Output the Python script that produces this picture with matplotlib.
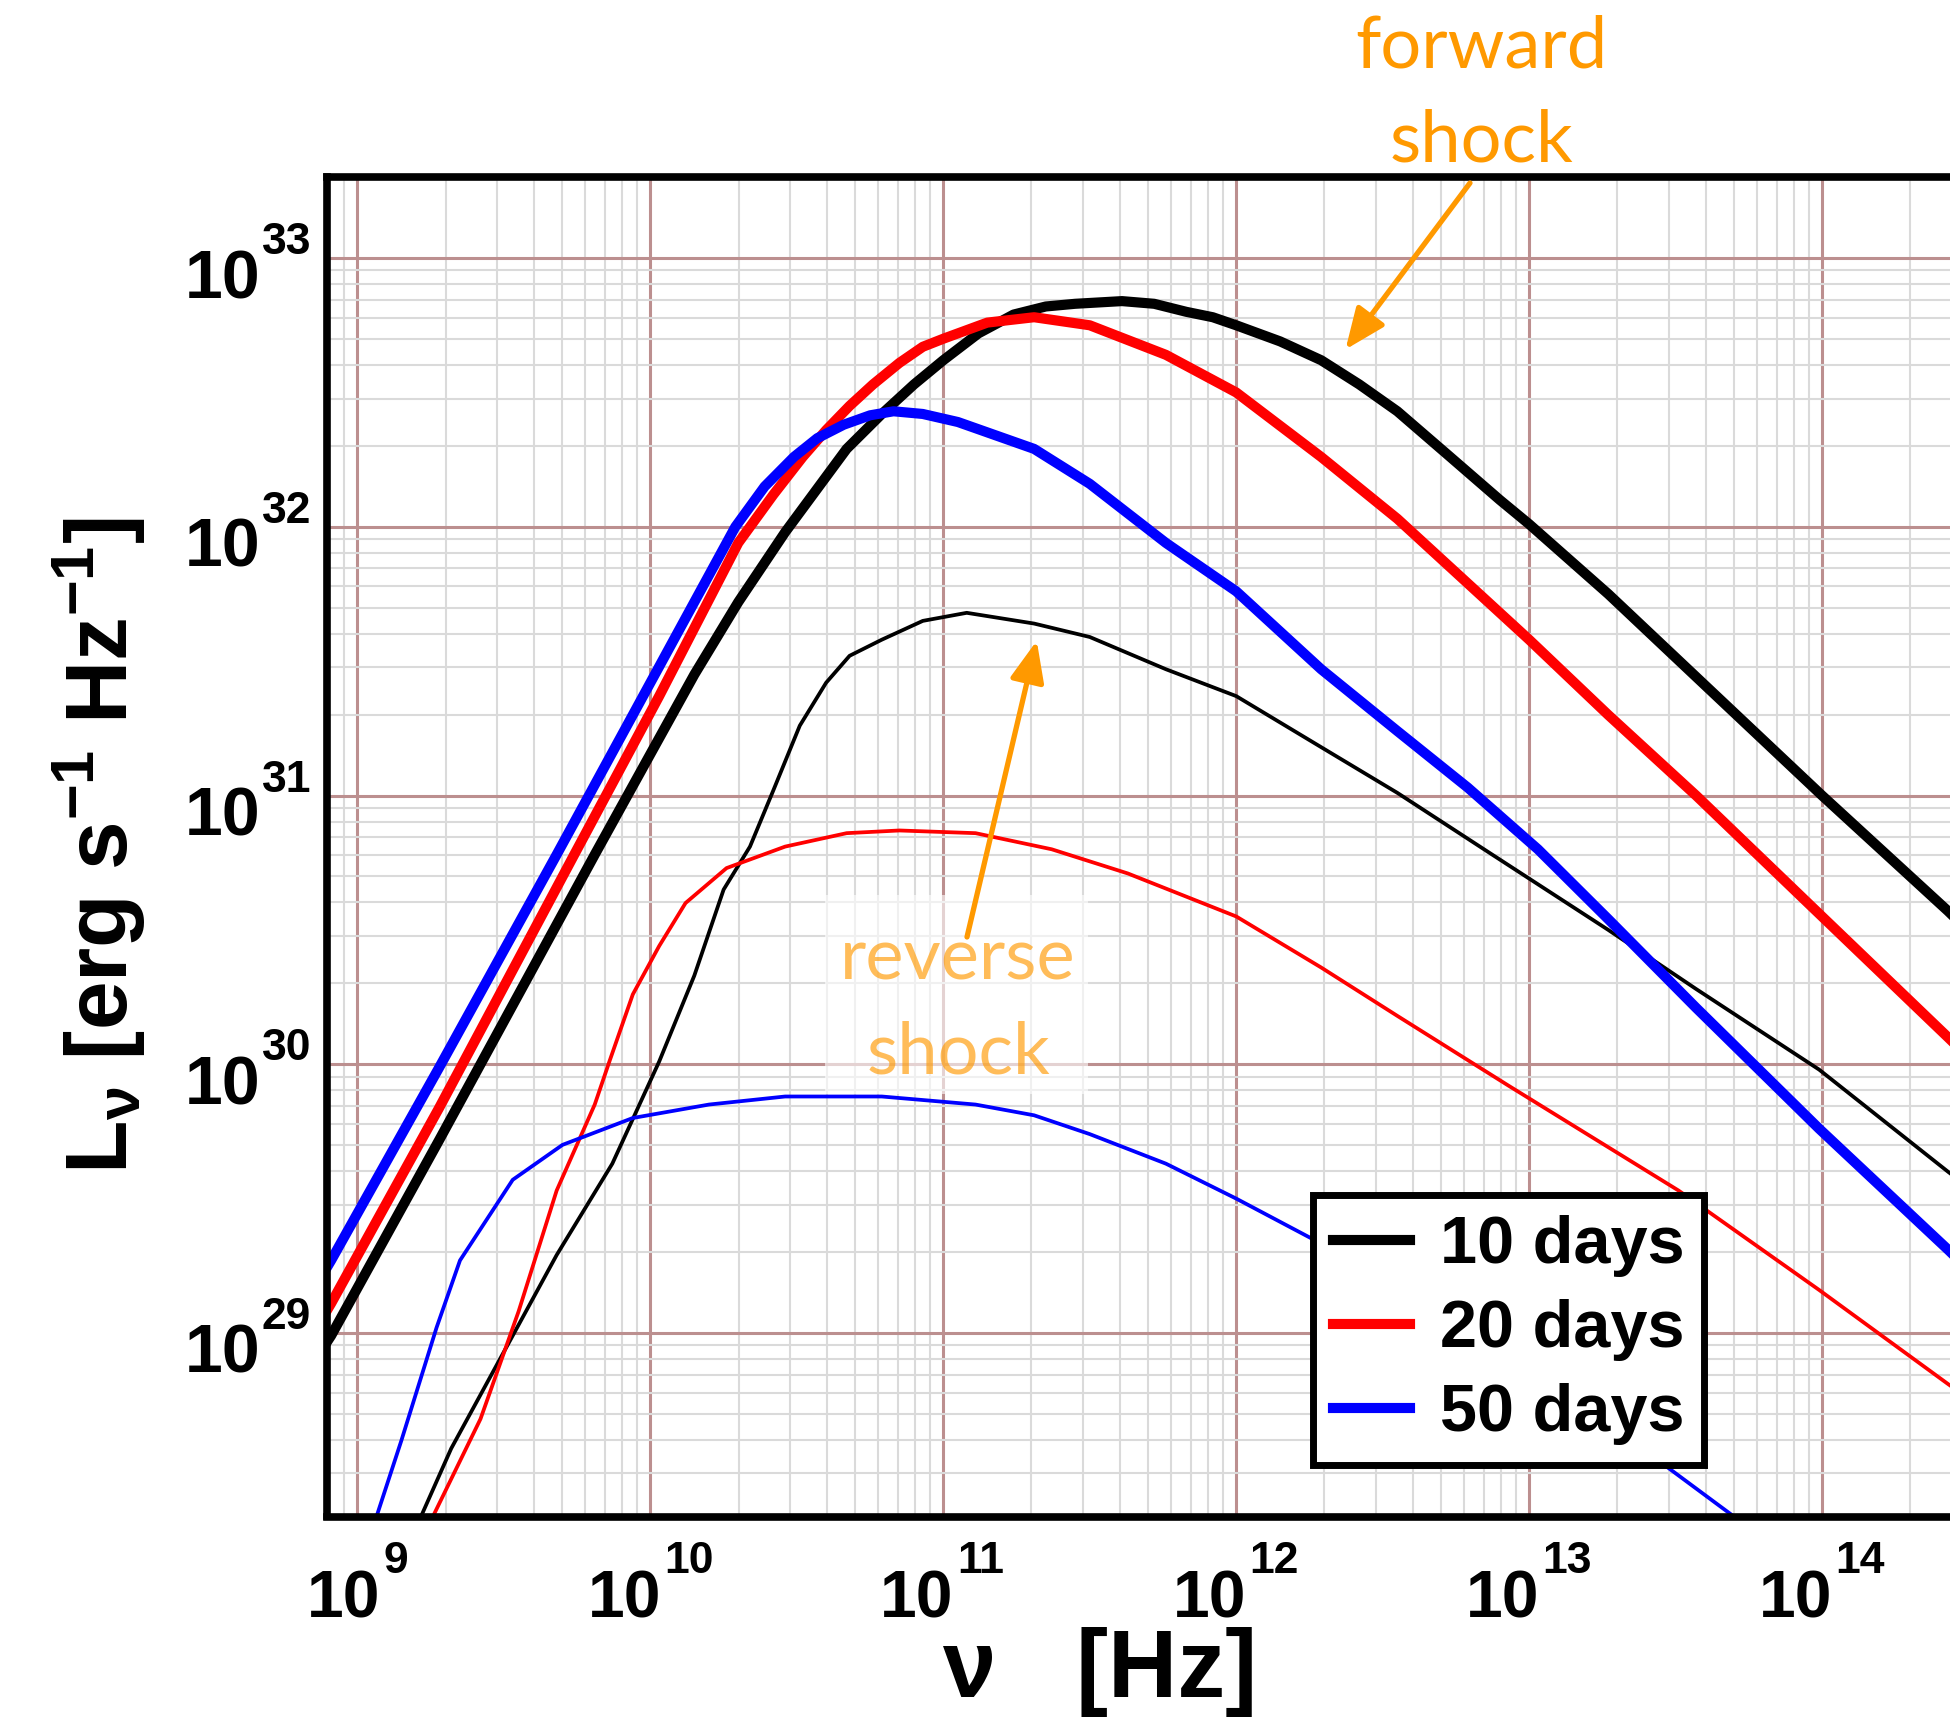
import numpy as np
import matplotlib
matplotlib.use('Agg')
import matplotlib.pyplot as plt
from matplotlib.ticker import LogLocator, NullFormatter
from matplotlib.transforms import blended_transform_factory, ScaledTranslation
from matplotlib.patches import Rectangle

# データ: log10(nu [Hz]), log10(L_nu [erg/s/Hz])
# forward shock (太線)
fs10_lognu = [8.85, 8.91, 9.28, 9.55, 9.81, 10.15, 10.30, 10.46, 10.67, 10.79, 10.90, 11.0, 11.12, 11.24,
              11.35, 11.45, 11.61, 11.72, 11.83, 11.92, 12.0, 12.15, 12.29, 12.42, 12.55, 12.72, 12.90,
              13.0, 13.27, 13.63, 14.0, 14.23, 14.43, 14.6]
fs10_logL = [28.89, 28.99, 29.72, 30.26, 30.78, 31.45, 31.72, 31.98, 32.29, 32.42, 32.53, 32.62, 32.72, 32.79,
             32.82, 32.83, 32.84, 32.83, 32.80, 32.78, 32.75, 32.69, 32.62, 32.53, 32.43, 32.27, 32.10,
             32.01, 31.75, 31.38, 31.0, 30.77, 30.57, 30.39]

fs20_lognu = [8.85, 8.91, 9.28, 9.74, 10.03, 10.30, 10.42, 10.52, 10.60, 10.68, 10.76, 10.85, 10.93, 11.0,
              11.15, 11.31, 11.50, 11.76, 12.0, 12.29, 12.55, 12.90, 13.0, 13.27, 13.57, 13.78, 13.99,
              14.43, 14.6]
fs20_logL = [29.0, 29.11, 29.84, 30.78, 31.37, 31.94, 32.12, 32.26, 32.36, 32.45, 32.53, 32.61, 32.67, 32.70,
             32.76, 32.78, 32.75, 32.64, 32.50, 32.26, 32.03, 31.68, 31.58, 31.30, 31.0, 30.78, 30.56,
             30.10, 29.92]

fs50_lognu = [8.85, 8.91, 9.28, 9.68, 9.99, 10.29, 10.39, 10.49, 10.57, 10.66, 10.75, 10.83, 10.93, 11.05,
              11.31, 11.50, 11.76, 12.0, 12.29, 12.55, 12.79, 13.03, 13.27, 13.57, 13.99, 14.43, 14.6]
fs50_logL = [29.16, 29.27, 29.99, 30.78, 31.40, 32.0, 32.15, 32.26, 32.33, 32.38, 32.415, 32.43, 32.42, 32.39,
             32.29, 32.16, 31.94, 31.76, 31.47, 31.24, 31.03, 30.80, 30.54, 30.21, 29.76, 29.31, 29.13]

# reverse shock (細線)
rs10_lognu = [9.15, 9.21, 9.32, 9.48, 9.68, 9.87, 10.03, 10.15, 10.25, 10.34, 10.42, 10.51, 10.60, 10.68,
              10.79, 10.93, 11.08, 11.31, 11.50, 11.76, 12.0, 12.29, 12.55, 12.86, 13.27, 13.57, 13.99,
              14.43, 14.6]
rs10_logL = [28.20, 28.30, 28.57, 28.89, 29.29, 29.63, 30.01, 30.33, 30.65, 30.81, 31.02, 31.26, 31.42, 31.52,
             31.58, 31.65, 31.68, 31.64, 31.59, 31.47, 31.37, 31.18, 31.01, 30.79, 30.50, 30.28, 29.98,
             29.60, 29.46]

rs20_lognu = [9.20, 9.25, 9.42, 9.55, 9.68, 9.81, 9.86, 9.94, 10.03, 10.12, 10.26, 10.46, 10.67, 10.85,
              11.11, 11.37, 11.63, 12.0, 12.29, 12.55, 12.93, 13.51, 13.99, 14.43, 14.6]
rs20_logL = [28.18, 28.30, 28.68, 29.08, 29.53, 29.85, 30.01, 30.26, 30.44, 30.60, 30.73, 30.81, 30.86, 30.87,
             30.86, 30.80, 30.71, 30.55, 30.36, 30.18, 29.92, 29.53, 29.16, 28.81, 28.68]

rs50_lognu = [9.03, 9.06, 9.15, 9.27, 9.35, 9.44, 9.53, 9.70, 9.94, 10.20, 10.46, 10.79, 11.11, 11.31,
              11.50, 11.76, 12.0, 12.26, 12.80, 13.46, 13.72, 13.85]
rs50_logL = [28.20, 28.30, 28.60, 29.02, 29.27, 29.42, 29.57, 29.70, 29.80, 29.85, 29.88, 29.88, 29.85, 29.81,
             29.74, 29.63, 29.50, 29.35, 28.95, 28.51, 28.30, 28.20]

labels = ['10 days', '20 days', '50 days']
colors = ['black', 'red', 'blue']
xtick_exp = [9, 10, 11, 12, 13, 14]
ytick_exp = [29, 30, 31, 32, 33]

W, H = 1950, 1719


def fx(px):
    return px / W


def fy(py):
    return 1 - py / H


def shift(dx_px, dy_px):
    # ピクセル単位のオフセット (dpi=100)
    return ScaledTranslation(dx_px / 100, dy_px / 100, fig.dpi_scale_trans)


plt.rcParams['font.family'] = ['Liberation Sans', 'DejaVu Sans']
plt.rcParams['font.weight'] = 'bold'
plt.rcParams['mathtext.fontset'] = 'custom'
plt.rcParams['mathtext.rm'] = 'Liberation Sans:bold'
plt.rcParams['mathtext.it'] = 'Liberation Sans:bold'
plt.rcParams['mathtext.bf'] = 'Liberation Sans:bold'
plt.rcParams['mathtext.sf'] = 'Liberation Sans:bold'

fig = plt.figure(figsize=(W / 100, H / 100), dpi=100)
# 右端は図の外にはみ出す
ax = fig.add_axes([fx(327), fy(1516.5), 1788 / W, 1339 / H])

rs_sets = [(rs10_lognu, rs10_logL), (rs20_lognu, rs20_logL), (rs50_lognu, rs50_logL)]
fs_sets = [(fs10_lognu, fs10_logL), (fs20_lognu, fs20_logL), (fs50_lognu, fs50_logL)]

for (lx, ly), c in zip(rs_sets, colors):
    ax.plot(10 ** np.array(lx), 10 ** np.array(ly), color=c, lw=2.7, zorder=2)

handles = []
for (lx, ly), c, lab in zip(fs_sets, colors, labels):
    h, = ax.plot(10 ** np.array(lx), 10 ** np.array(ly), color=c, lw=7.3, label=lab, zorder=2.5,
                 solid_joinstyle='round')
    handles.append(h)

ax.set_xscale('log')
ax.set_yscale('log')
ax.set_xlim(10 ** 8.896, 10 ** 15.0)
ax.set_ylim(10 ** 28.317, 10 ** 33.30)

ax.set_xticks([10.0 ** e for e in xtick_exp])
ax.set_yticks([10.0 ** e for e in ytick_exp])
ax.xaxis.set_minor_locator(LogLocator(base=10, subs=np.arange(2, 10), numticks=30))
ax.yaxis.set_minor_locator(LogLocator(base=10, subs=np.arange(2, 10), numticks=30))
ax.tick_params(which='both', length=0, labelbottom=False, labelleft=False)
ax.xaxis.set_minor_formatter(NullFormatter())
ax.yaxis.set_minor_formatter(NullFormatter())

ax.set_axisbelow(True)
ax.grid(which='minor', color='#dadada', lw=1.5)
ax.grid(which='major', color='#bc8f8f', lw=2.2)
for sp in ax.spines.values():
    sp.set_linewidth(5.5)

# 目盛りラベル (10 と指数を別々に置く)
xt = blended_transform_factory(ax.transData, ax.transAxes)
for e in xtick_exp:
    w10 = 73
    wexp = 24.5 * len(str(e))
    left = -(w10 + 3 + wexp) / 2
    ax.text(10.0 ** e, 0, '10', transform=xt + shift(left + w10, -100.5), ha='right',
            va='baseline', fontsize=47.5, clip_on=False)
    ax.text(10.0 ** e, 0, str(e), transform=xt + shift(left + w10 + 3, -56.5), ha='left',
            va='baseline', fontsize=32, clip_on=False)

yt = blended_transform_factory(ax.transAxes, ax.transData)
for e in ytick_exp:
    ax.text(0, 10.0 ** e, '10', transform=yt + shift(-67, -40), ha='right', va='baseline',
            fontsize=49, clip_on=False)
    ax.text(0, 10.0 ** e, str(e), transform=yt + shift(-16, 4), ha='right', va='baseline',
            fontsize=32, clip_on=False)

# 軸ラベル
fig.text(fx(128), fy(846), r'L$_{\nu}$ [erg s$^{-1}$ Hz$^{-1}$]', rotation=90,
         rotation_mode='anchor', ha='center', va='baseline', fontsize=63)
fig.text(fx(1100), fy(1697), 'ν   [Hz]', ha='center', va='baseline', fontsize=69)

leg = ax.legend(handles=handles, loc='upper left', bbox_to_anchor=(fx(1313), fy(1195)),
                bbox_transform=fig.transFigure, borderaxespad=0, fancybox=False, framealpha=1,
                edgecolor='black', fontsize=48, handlelength=1.15, handletextpad=0.45,
                labelspacing=0.33, borderpad=0.3)
leg.get_frame().set_linewidth(5)
leg.set_zorder(6)

# 注釈
orange = '#ff9900'
fig.text(fx(1481), fy(68), 'forward', color=orange, fontsize=52, family='Lato',
         fontweight='normal', ha='center', va='baseline')
fig.text(fx(1481), fy(161), 'shock', color=orange, fontsize=52, family='Lato',
         fontweight='normal', ha='center', va='baseline')
ax.annotate('', xy=(10 ** 12.373, 10 ** 32.66), xytext=(fx(1470), fy(183)),
            textcoords='figure fraction', annotation_clip=False,
            arrowprops=dict(arrowstyle='-|>,head_length=1.0,head_width=0.42', color=orange,
                            lw=3.8, mutation_scale=25, shrinkA=0, shrinkB=0))

ax.add_patch(Rectangle((fx(825), fy(1094)), 263 / W, 199 / H, transform=fig.transFigure,
                       facecolor='white', edgecolor='none', alpha=0.6, zorder=3))
ax.text(fx(958), fy(979), 'reverse', transform=fig.transFigure, color=orange, alpha=0.65,
        fontsize=52, family='Lato', fontweight='normal', ha='center', va='baseline', zorder=4)
ax.text(fx(958), fy(1073), 'shock', transform=fig.transFigure, color=orange, alpha=0.65,
        fontsize=52, family='Lato', fontweight='normal', ha='center', va='baseline', zorder=4)
ax.annotate('', xy=(10 ** 11.319, 10 ** 31.576), xytext=(fx(967), fy(937)),
            textcoords='figure fraction', zorder=5,
            arrowprops=dict(arrowstyle='-|>,head_length=1.0,head_width=0.42', color=orange,
                            lw=3.8, mutation_scale=25, shrinkA=0, shrinkB=0))

fig.savefig('out.png', dpi=100)
